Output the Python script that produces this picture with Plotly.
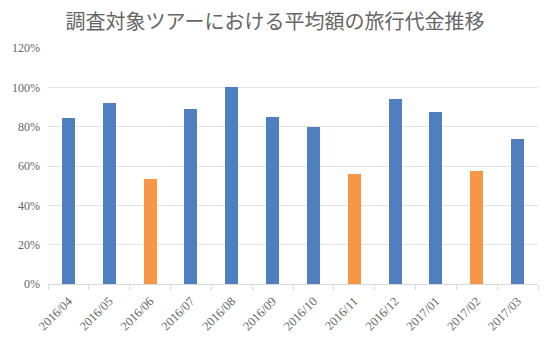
import plotly.graph_objects as go

# Monthly average tour price ratios
months = ["2016/04", "2016/05", "2016/06", "2016/07", "2016/08", "2016/09",
          "2016/10", "2016/11", "2016/12", "2017/01", "2017/02", "2017/03"]
ratios = [0.845, 0.92, 0.535, 0.89, 1.00, 0.85, 0.797, 0.56, 0.943, 0.877, 0.575, 0.735]
highlight = ["2016/06", "2016/11", "2017/02"]

BLUE = "#4F7FBE"
ORANGE = "#F79646"
colors = [ORANGE if m in highlight else BLUE for m in months]

fig = go.Figure(go.Bar(x=months, y=ratios, marker=dict(color=colors, line=dict(width=0)),
                       width=0.32))

fig.update_layout(
    width=550, height=337,
    margin=dict(l=48, r=12, t=48, b=53),
    paper_bgcolor="white", plot_bgcolor="white",
    title=dict(text="調査対象ツアーにおける平均額の旅行代金推移",
               x=0.5, xanchor="center", y=0.935, yanchor="middle",
               font=dict(family="Noto Sans CJK JP", size=20, color="#666666")),
    showlegend=False,
    bargap=0,
)
fig.update_xaxes(
    type="category", tickangle=-45, tickson="boundaries", ticks="outside",
    ticklen=5, tickcolor="#D9D9D9", showline=True, linecolor="#D9D9D9",
    showgrid=False, automargin=False, ticklabelstandoff=4,
    tickfont=dict(family="Liberation Serif", size=12.5, color="#666666"),
)
fig.update_yaxes(
    range=[0, 1.2], dtick=0.2, tickformat=".0%", showgrid=True,
    gridcolor="#E3E3E3", zeroline=False, showline=False, ticks="",
    automargin=False, ticklabelstandoff=7,
    tickfont=dict(family="Liberation Serif", size=12, color="#666666"),
)

fig.write_html("out.html")
